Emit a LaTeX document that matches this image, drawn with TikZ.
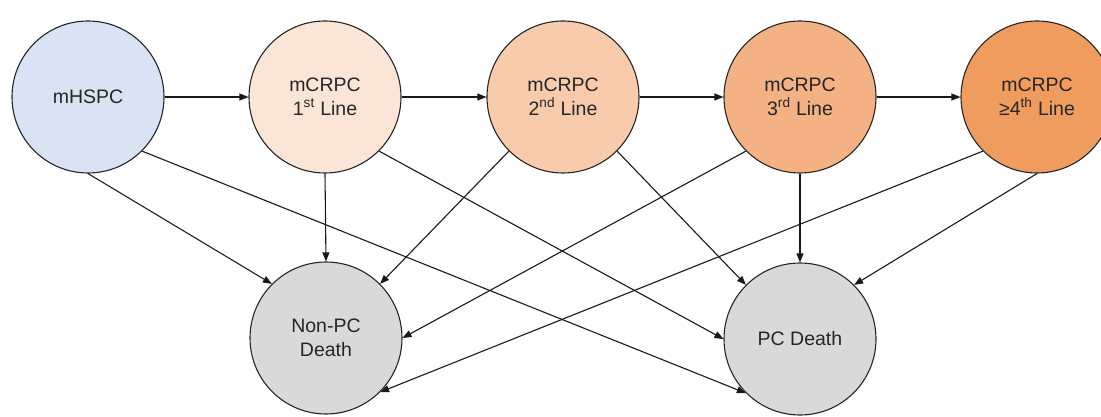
\documentclass[tikz,border=0pt]{standalone}
\usepackage{fontspec}
\setmainfont{Liberation Sans}
\usetikzlibrary{arrows.meta}
\definecolor{hspc}{HTML}{DAE3F3}
\definecolor{lineA}{HTML}{FBE5D6}
\definecolor{lineB}{HTML}{F8CBAD}
\definecolor{lineC}{HTML}{F4B183}
\definecolor{lineD}{HTML}{F09C5E}
\definecolor{death}{HTML}{D9D9D9}
\definecolor{edge}{HTML}{262626}
\begin{document}
\begin{tikzpicture}[x=1pt,y=-1pt,
  state/.style={circle,draw=edge,line width=1.1pt,minimum size=152pt,inner sep=0pt,
    align=center,font=\fontsize{19.5}{23.5}\selectfont,text=black!85},
  conn/.style={draw=black!90,line width=1.1pt,-{Triangle[length=9pt,width=7pt]}}]
\useasboundingbox (0,0) rectangle (1101,417);
\fill[white] (0,0) rectangle (1101,417);
\node[state,fill=hspc]  (h)  at (88,97)  {mHSPC};
\node[state,fill=lineA] (l1) at (325,97) {mCRPC\\1\textsuperscript{st} Line};
\node[state,fill=lineB] (l2) at (563,97) {mCRPC\\2\textsuperscript{nd} Line};
\node[state,fill=lineC] (l3) at (800,97) {mCRPC\\3\textsuperscript{rd} Line};
\node[state,fill=lineD] (l4) at (1037,97) {mCRPC\\≥4\textsuperscript{th} Line};
\node[state,fill=death] (np) at (326,338) {Non-PC\\Death};
\node[state,fill=death] (pc) at (800,339) {PC Death};
\draw[conn] (h.east) -- (l1.west);
\draw[conn] (l1.east) -- (l2.west);
\draw[conn] (l2.east) -- (l3.west);
\draw[conn] (l3.east) -- (l4.west);
\draw[conn] (h.south) -- (np.north west);
\draw[conn] (h.south east) -- (pc.south west);
\draw[conn] (l1.south) -- (np.north);
\draw[conn] (l1.south east) -- (pc.west);
\draw[conn] (l2.south west) -- (np.north east);
\draw[conn] (l2.south east) -- (pc.north west);
\draw[conn] (l3.south west) -- (np.east);
\draw[conn] (l3.south) -- (pc.north);
\draw[conn] (l4.south west) -- (np.south east);
\draw[conn] (l4.south) -- (pc.north east);
\end{tikzpicture}
\end{document}
